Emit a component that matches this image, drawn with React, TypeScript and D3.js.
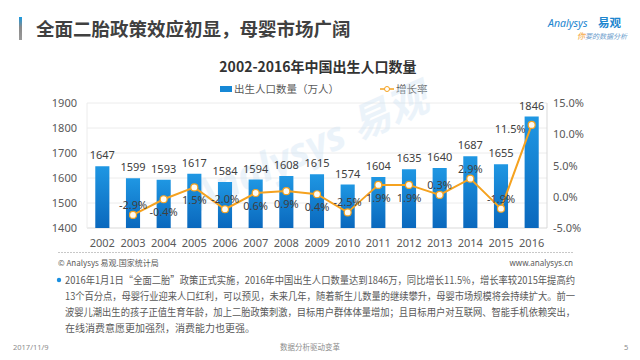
import { useEffect, useRef } from "react";
import * as d3 from "d3";

const years = ["2002", "2003", "2004", "2005", "2006", "2007", "2008", "2009", "2010", "2011", "2012", "2013", "2014", "2015", "2016"];
const births = [1647, 1599, 1593, 1617, 1584, 1594, 1608, 1615, 1574, 1604, 1635, 1640, 1687, 1655, 1846];
const growth = [null, -2.9, -0.4, 1.5, -2.0, 0.6, 0.9, 0.4, -2.5, 1.9, 1.9, 0.3, 2.9, -1.9, 11.5];
const leftTicks = [1400, 1500, 1600, 1700, 1800, 1900];
const rightTicks = [-5, 0, 5, 10, 15];
// where each growth label sits relative to its point
const labelPlace = ["", "above", "below", "below", "above", "below", "below", "below", "above", "below", "below", "above", "above", "above", "left"];

const noteLines = [
  "2016年1月1日“全面二胎”政策正式实施，2016年中国出生人口数量达到1846万，同比增长11.5%，增长率较2015年提高约",
  "13个百分点，母婴行业迎来人口红利，可以预见，未来几年，随着新生儿数量的继续攀升，母婴市场规模将会持续扩大。前一",
  "波婴儿潮出生的孩子正值生育年龄，加上二胎政策刺激，目标用户群体体量增加；且目标用户对互联网、智能手机依赖突出，",
  "在线消费意愿更加强烈，消费能力也更强。",
];

const FONT = "'Noto Sans', 'Noto Sans CJK SC', sans-serif";
const CJK = "'Noto Sans CJK SC', 'Noto Sans', sans-serif";

const App = () => {
  const ref = useRef<SVGSVGElement>(null);

  useEffect(() => {
    const svg = d3.select(ref.current);
    svg.selectAll("*").remove();
    const width = 640;
    const height = 360;
    const plot = { left: 87, right: 547, top: 103, bottom: 228 };

    const defs = svg.append("defs");
    const bg = defs.append("linearGradient").attr("id", "barGrad").attr("x1", 0).attr("y1", 0).attr("x2", 0).attr("y2", 1);
    bg.append("stop").attr("offset", "0%").attr("stop-color", "#1f97e3");
    bg.append("stop").attr("offset", "100%").attr("stop-color", "#0a68bd");
    const tg = defs.append("linearGradient").attr("id", "titleGrad").attr("x1", 0).attr("y1", 0).attr("x2", 0).attr("y2", 1);
    tg.append("stop").attr("offset", "0%").attr("stop-color", "#1a9ae0");
    tg.append("stop").attr("offset", "45%").attr("stop-color", "#8a8a8a");
    tg.append("stop").attr("offset", "100%").attr("stop-color", "#9a9a9a");

    svg.append("rect").attr("width", width).attr("height", height).attr("fill", "#fff");

    // page header
    svg.append("rect").attr("x", 19).attr("y", 17).attr("width", 3).attr("height", 23).attr("fill", "url(#titleGrad)");
    svg.append("text").attr("x", 36).attr("y", 36).attr("font-family", CJK).attr("font-size", 18.5)
      .attr("font-weight", "bold").attr("fill", "#404040").text("全面二胎政策效应初显，母婴市场广阔");

    const logo = svg.append("g").attr("font-family", FONT);
    logo.append("text").attr("x", 548).attr("y", 27).attr("font-size", 10.5).attr("font-style", "italic")
      .attr("fill", "#1d86cf").text("Analysys");
    logo.append("text").attr("x", 598).attr("y", 27).attr("font-size", 11.5).attr("font-weight", "bold")
      .attr("fill", "#1d86cf").attr("font-family", CJK).text("易观");
    const sub = logo.append("text").attr("x", 577).attr("y", 39).attr("font-size", 7).attr("font-style", "italic")
      .attr("font-family", CJK);
    sub.append("tspan").attr("fill", "#f39a1e").attr("font-size", 8).text("你");
    sub.append("tspan").attr("fill", "#6b9ccc").text("要的数据分析");

    // chart title + legend
    svg.append("text").attr("x", 318).attr("y", 72).attr("text-anchor", "middle").attr("font-family", CJK)
      .attr("font-size", 14).attr("font-weight", "bold").attr("fill", "#333").text("2002-2016年中国出生人口数量");
    svg.append("rect").attr("x", 220).attr("y", 86).attr("width", 12).attr("height", 6).attr("fill", "#1688d6");
    svg.append("text").attr("x", 234).attr("y", 93).attr("font-family", CJK).attr("font-size", 10.5)
      .attr("fill", "#595959").text("出生人口数量（万人）");
    svg.append("line").attr("x1", 380).attr("x2", 394).attr("y1", 89).attr("y2", 89).attr("stroke", "#f5a21f").attr("stroke-width", 1.5);
    svg.append("circle").attr("cx", 387).attr("cy", 89).attr("r", 2.5).attr("fill", "#fff").attr("stroke", "#f5a21f");
    svg.append("text").attr("x", 396).attr("y", 93).attr("font-family", CJK).attr("font-size", 10.5)
      .attr("fill", "#595959").text("增长率");

    const x = d3.scaleBand().domain(years).range([plot.left, plot.right]).paddingInner(0.54).paddingOuter(0.27);
    const y = d3.scaleLinear().domain([1400, 1900]).range([plot.bottom, plot.top]);
    const y2 = d3.scaleLinear().domain([-5, 15]).range([plot.bottom, plot.top]);

    // grid
    svg.append("g").selectAll("line").data(leftTicks).enter().append("line")
      .attr("x1", plot.left).attr("x2", plot.right).attr("y1", (d) => y(d)).attr("y2", (d) => y(d))
      .attr("stroke", (d) => (d === 1400 ? "#d9d9d9" : "#ececec")).attr("stroke-width", 1);
    svg.append("line").attr("x1", plot.left).attr("x2", plot.left).attr("y1", plot.top).attr("y2", plot.bottom).attr("stroke", "#ececec");
    svg.append("line").attr("x1", plot.right).attr("x2", plot.right).attr("y1", plot.top).attr("y2", plot.bottom).attr("stroke", "#d9d9d9");

    // watermark
    svg.append("text").attr("transform", "translate(315,160) rotate(-24)").attr("text-anchor", "middle")
      .attr("font-family", FONT).attr("font-size", 40).attr("font-weight", "bold").attr("font-style", "italic")
      .attr("fill", "#cfe3f3").attr("opacity", 0.4).text("Analysys 易观");

    // axes labels
    svg.append("g").selectAll("text").data(leftTicks).enter().append("text")
      .attr("x", 77).attr("y", (d) => y(d) + 4).attr("text-anchor", "end").attr("font-family", FONT)
      .attr("font-size", 11).attr("fill", "#595959").text((d) => d);
    svg.append("g").selectAll("text").data(rightTicks).enter().append("text")
      .attr("x", 553).attr("y", (d) => y2(d) + 4).attr("font-family", FONT)
      .attr("font-size", 11).attr("fill", "#595959").text((d) => d.toFixed(1) + "%");
    svg.append("g").selectAll("text").data(years).enter().append("text")
      .attr("x", (d) => x(d)! + x.bandwidth() / 2).attr("y", 247).attr("text-anchor", "middle")
      .attr("font-family", FONT).attr("font-size", 11).attr("fill", "#595959").text((d) => d);

    // bars
    svg.append("g").selectAll("rect").data(births).enter().append("rect")
      .attr("x", (d, i) => x(years[i])!).attr("width", x.bandwidth())
      .attr("y", (d) => y(d)).attr("height", (d) => plot.bottom - y(d)).attr("fill", "url(#barGrad)");
    svg.append("g").selectAll("text").data(births).enter().append("text")
      .attr("x", (d, i) => x(years[i])! + x.bandwidth() / 2).attr("y", (d) => y(d) - 7)
      .attr("text-anchor", "middle").attr("font-family", FONT).attr("font-size", 11).attr("fill", "#404040").text((d) => d);

    // growth line
    const pts = growth.map((g, i) => ({ g, i })).filter((p) => p.g !== null) as { g: number; i: number }[];
    const cx = (p: { i: number }) => x(years[p.i])! + x.bandwidth() / 2;
    const line = d3.line<{ g: number; i: number }>().x(cx).y((p) => y2(p.g));
    svg.append("path").datum(pts).attr("d", line).attr("fill", "none").attr("stroke", "#f5a21f").attr("stroke-width", 2);
    svg.append("g").selectAll("circle").data(pts).enter().append("circle")
      .attr("cx", cx).attr("cy", (p) => y2(p.g)).attr("r", 3.5).attr("fill", "#fffbf2")
      .attr("stroke", "#f5a21f").attr("stroke-width", 1.2);
    svg.append("g").selectAll("text").data(pts).enter().append("text")
      .attr("x", (p) => (labelPlace[p.i] === "left" ? cx(p) - 6 : cx(p)))
      .attr("y", (p) => {
        const place = labelPlace[p.i];
        if (place === "above") return y2(p.g) - 6;
        if (place === "below") return y2(p.g) + 17;
        return y2(p.g) + 8;
      })
      .attr("text-anchor", (p) => (labelPlace[p.i] === "left" ? "end" : "middle"))
      .attr("font-family", FONT).attr("font-size", 11).attr("fill", "#404040").text((p) => p.g.toFixed(1) + "%");

    // source line
    svg.append("line").attr("x1", 58).attr("x2", 573).attr("y1", 252.5).attr("y2", 252.5)
      .attr("stroke", "#c8c8c8").attr("stroke-dasharray", "2,1");
    svg.append("text").attr("x", 58).attr("y", 266).attr("font-family", CJK).attr("font-size", 8)
      .attr("fill", "#595959").text("© Analysys 易观.国家统计局");
    svg.append("text").attr("x", 573).attr("y", 266).attr("text-anchor", "end").attr("font-family", FONT).attr("font-size", 8)
      .attr("fill", "#595959").text("www.analysys.cn");

    // note paragraph
    svg.append("circle").attr("cx", 59).attr("cy", 280).attr("r", 2.2).attr("fill", "#1a8fe0");
    svg.append("g").selectAll("text").data(noteLines).enter().append("text")
      .attr("x", 65).attr("y", (d, i) => 284 + i * 16)
      .attr("font-family", CJK).attr("font-size", 10).attr("fill", "#595959")
      .attr("textLength", (d, i) => (i < noteLines.length - 1 ? 510 : null))
      .attr("lengthAdjust", "spacingAndGlyphs").text((d) => d);

    // footer
    svg.append("text").attr("x", 13).attr("y", 350).attr("font-family", FONT).attr("font-size", 7.5)
      .attr("fill", "#8c8c8c").text("2017/11/9");
    svg.append("text").attr("x", 310).attr("y", 350).attr("text-anchor", "middle").attr("font-family", CJK).attr("font-size", 7.5)
      .attr("fill", "#8c8c8c").text("数据分析驱动变革");
    svg.append("text").attr("x", 624).attr("y", 350).attr("font-family", FONT).attr("font-size", 7.5)
      .attr("fill", "#8c8c8c").text("5");
  }, []);

  return (
    <svg ref={ref} width={640} height={360} style={{ position: "absolute", left: 0, top: 0 }}></svg>
  );
};

export default App;
